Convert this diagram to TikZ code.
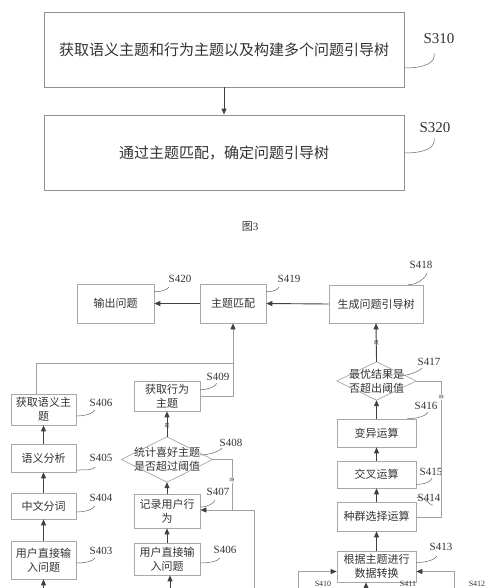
\documentclass[tikz,border=0pt]{standalone}
\usepackage{fontspec}
\setmainfont{Liberation Serif}
\newfontfamily\cjk{Noto Sans CJK SC}
\usetikzlibrary{arrows.meta,calc}
\definecolor{txt}{HTML}{333333}
\definecolor{frame}{HTML}{A8A8A8}
\definecolor{topframe}{HTML}{909090}
\definecolor{dark}{HTML}{404040}
\definecolor{lite}{HTML}{A0A0A0}
\tikzset{
  bigbox/.style={draw=topframe, line width=0.8pt, minimum width=360pt, minimum height=75pt,
    inner sep=0pt, text=txt, font=\cjk\fontsize{15}{18}\selectfont},
  fbox/.style={draw=frame, line width=0.7pt, inner sep=0pt, align=center, text=txt,
    font=\cjk\fontsize{11}{14}\selectfont},
  dbox/.style={inner sep=0pt, align=center, text=txt, font=\cjk\fontsize{11}{14}\selectfont},
  dshape/.style={draw=frame, line width=0.7pt},
  steplbl/.style={text=txt, inner sep=0pt, font=\fontsize{11}{12}\selectfont},
  edgelbl/.style={text=txt, inner sep=0pt, font=\fontsize{8}{9}\selectfont},
  biglbl/.style={text=txt, inner sep=0pt, font=\fontsize{15}{16}\selectfont},
  leader/.style={draw=dark!80, line width=0.5pt},
  darr/.style={draw=dark, line width=0.9pt, -{Triangle[length=6pt,width=5pt]}},
  larr/.style={draw=lite, line width=0.7pt, -{Triangle[length=6pt,width=5pt,color=dark]}},
  lline/.style={draw=lite, line width=0.7pt},
  tiny/.style={text=txt, inner sep=0.5pt, fill=white, font=\cjk\fontsize{5}{6}\selectfont},
}
\begin{document}
\begin{tikzpicture}[x=1pt,y=-1pt]
\path[use as bounding box, clip] (0,0) rectangle (500,588);
\fill[white] (0,0) rectangle (500,588);

% ---------- Fig. 3 ----------
\node[bigbox] (s310) at (224,49.5) {获取语义主题和行为主题以及构建多个问题引导树};
\node[bigbox] (s320) at (224,152.5) {通过主题匹配，确定问题引导树};
\node[biglbl] (l310) at (439,39) {S310};
\node[biglbl] (l320) at (435,128) {S320};
\draw[darr] (s310.south) -- (s320.north);
\draw[leader] ($(s310.east)+(0,18.5)$) .. controls +(20,0) and +(2,10) .. ($(l310)+(-5,14)$);
\draw[leader] ($(s320.east)+(0,0.5)$) .. controls +(20,0) and +(2,10) .. ($(l320)+(-1,10)$);
\node[text=txt, inner sep=0pt, font=\cjk\fontsize{11}{12}\selectfont] (fig3) at (250,227) {图\fontspec{Liberation Serif}3};

% ---------- Fig. 4 boxes ----------
\node[fbox, minimum width=77pt, minimum height=39pt] (b420) at (115.5,303.5) {输出问题};
\node[fbox, minimum width=66pt, minimum height=39pt] (b419) at (233,303.5) {主题匹配};
\node[fbox, minimum width=94pt, minimum height=38pt] (b418) at (376,304) {生成问题引导树};

\node[fbox, minimum width=65pt, minimum height=31pt] (b406a) at (43.5,409.5) {获取语义主\\题};
\node[fbox, minimum width=65pt, minimum height=28pt] (b405) at (43.5,458) {语义分析};
\node[fbox, minimum width=65pt, minimum height=26pt] (b404) at (43.5,506) {中文分词};
\node[fbox, minimum width=65pt, minimum height=38pt] (b403) at (43.5,560) {用户直接输\\入问题};

\node[fbox, minimum width=66pt, minimum height=30pt] (b409) at (167,396) {获取行为\\主题};
\node[dbox, minimum width=91pt, minimum height=45pt] (d408) at (167,459.5) {统计喜好主题\\是否超过阈值};
\draw[dshape] (d408.north) -- (d408.east) -- (d408.south) -- (d408.west) -- cycle;
\node[fbox, minimum width=66pt, minimum height=34pt] (b407) at (167,511) {记录用户行\\为};
\node[fbox, minimum width=66pt, minimum height=32pt] (b406b) at (167,559) {用户直接输\\入问题};

\node[dbox, minimum width=79pt, minimum height=38pt] (d417) at (376.5,381) {最优结果是\\否超出阈值};
\draw[dshape] (d417.north) -- (d417.east) -- (d417.south) -- (d417.west) -- cycle;
\node[fbox, minimum width=79pt, minimum height=28pt] (b416) at (376.5,433) {变异运算};
\node[fbox, minimum width=79pt, minimum height=27pt] (b415) at (376.5,474.5) {交叉运算};
\node[fbox, minimum width=79pt, minimum height=29pt] (b414) at (376.5,516.5) {种群选择运算};
\node[fbox, minimum width=79pt, minimum height=31pt] (b413) at (376.5,566.5) {根据主题进行\\数据转换};

% ---------- step labels ----------
\node[steplbl] (l420) at (180,279) {S420};
\node[steplbl] (l419) at (289,279) {S419};
\node[steplbl] (l418) at (421,265) {S418};
\node[steplbl] (l417) at (429,362) {S417};
\node[steplbl] (l416) at (426,406) {S416};
\node[steplbl] (l415) at (431,472) {S415};
\node[steplbl] (l414) at (429,498) {S414};
\node[steplbl] (l413) at (441,547) {S413};
\node[steplbl] (l409) at (218,377) {S409};
\node[steplbl] (l406a) at (101,403) {S406};
\node[steplbl] (l405) at (101,458) {S405};
\node[steplbl] (l404) at (101,498) {S404};
\node[steplbl] (l403) at (101,551) {S403};
\node[steplbl] (l408) at (231,443) {S408};
\node[steplbl] (l407) at (218,492) {S407};
\node[steplbl] (l406b) at (225,550) {S406};
\node[edgelbl] (l410) at (323,584) {S410};
\node[edgelbl] (l411) at (408,584) {S411};
\node[edgelbl] (l412) at (477,584) {S412};

% ---------- leaders ----------
\draw[leader] ($(b420.north east)+(0,8)$) .. controls +(8,0) and +(-2,3) .. ($(l420)+(-11,8)$);
\draw[leader] ($(b419.north east)+(0,8)$) .. controls +(8,0) and +(-2,3) .. ($(l419)+(-10,8)$);
\draw[leader] ($(b418.north east)+(-15,0)$) .. controls +(10,0) and +(-1,4) .. ($(l418)+(6,8)$);
\draw[leader] (398,376) .. controls +(10,0) and +(-2,3) .. ($(l417)+(-7,6)$);
\draw[leader] ($(b416.north east)+(-9,0)$) .. controls +(12,0) and +(-1,3) .. ($(l416)+(2,6)$);
\draw[leader] ($(b415.south east)+(0,-4)$) .. controls +(10,0) and +(-1,3) .. ($(l415)+(1,6)$);
\draw[leader] ($(b414.north east)+(0,-4.5)$) .. controls +(10,0) and +(-1,3) .. ($(l414)+(4,7)$);
\draw[leader] ($(b413.east)+(0,-4)$) .. controls +(12,0) and +(-2,3) .. ($(l413)+(-4,9)$);
\draw[leader] ($(b409.north east)+(0,9)$) .. controls +(9,0) and +(-1,3) .. ($(l409)+(-1,6)$);
\draw[leader] ($(b406a.east)+(0,6.5)$) .. controls +(10,0) and +(-2,3) .. ($(l406a)+(-6,7)$);
\draw[leader] ($(b405.east)+(0,12)$) .. controls +(10,0) and +(-2,3) .. ($(l405)+(-6,9)$);
\draw[leader] ($(b404.east)+(0,6)$) .. controls +(10,0) and +(-2,3) .. ($(l404)+(-6,8)$);
\draw[leader] ($(b403.east)+(0,3)$) .. controls +(10,0) and +(-2,3) .. ($(l403)+(-6,7)$);
\draw[leader] (200,455) .. controls +(10,0) and +(-2,3) .. ($(l408)+(-9,5)$);
\draw[leader] ($(b407.east)+(0,-4)$) .. controls +(8,0) and +(-1,3) .. ($(l407)+(-3,8)$);
\draw[leader] ($(b406b.east)+(0,4)$) .. controls +(10,0) and +(-2,3) .. ($(l406b)+(-5,8)$);

% ---------- connectors ----------
\draw[darr] (b418.west) -- (b419.east);
\draw[darr] (b419.west) -- (b420.east);

\coordinate (j1) at (233,363);
\draw[larr] (b409.east) -| (b419.south);
\draw[lline] ([xshift=-7.5pt]b406a.north) |- (j1);

\draw[darr] (b405.north) -- (b406a.south);
\draw[darr] (b404.north) -- (b405.south);
\draw[darr] (b403.north) -- (b404.south);
\coordinate (c403) at (43.5,592);
\draw[darr] (c403) -- (b403.south);

\draw[darr] (d408.north) -- node[tiny, fill=none, pos=0.45] {是} (b409.south);
\draw[darr] (b407.north) -- (d408.south);
\draw[darr] (b406b.north) -- (b407.south);
\coordinate (c406) at (170,592);
\draw[darr] (c406) -- ([xshift=3pt]b406b.south);
\coordinate (j2) at (232,510);
\draw[lline] (d408.east) -| node[tiny, rotate=-90, pos=0.7] {否} (j2);
\coordinate (c254) at (254,592);
\draw[larr] (c254) |- ([yshift=1pt]b407.east);

\draw[darr] (d417.north) -- node[tiny, fill=none, pos=0.5] {是} (b418.south);
\draw[darr] (b416.north) -- (d417.south);
\draw[darr] (b415.north) -- (b416.south);
\draw[darr] (b414.north) -- (b415.south);
\draw[darr] (b413.north) -- (b414.south);
\coordinate (j3) at (441,517);
\draw[lline] (d417.east) -| node[tiny, rotate=-90, pos=0.56] {否} (j3) -- (b414.east |- j3);

\coordinate (c298) at (298,592);
\coordinate (c454) at (454,592);
\coordinate (c366) at (366,592);
\draw[larr] (c298) |- ([yshift=-5pt]b413.west);
\draw[larr] (c454) |- ([yshift=-5pt]b413.east);
\draw[darr] (c366) -- ([xshift=-10.5pt]b413.south);
\end{tikzpicture}
\end{document}
